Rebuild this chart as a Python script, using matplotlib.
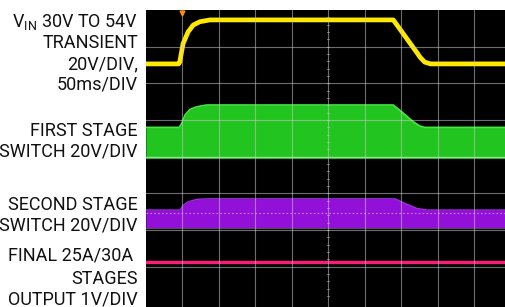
import matplotlib
matplotlib.use("Agg")
import matplotlib.pyplot as plt

plt.rcParams["font.family"] = ["Roboto", "DejaVu Sans"]
plt.rcParams["mathtext.fontset"] = "custom"
plt.rcParams["mathtext.rm"] = "Roboto"

# scope traces, time in ms (50ms/DIV), levels in volts
vin_t = [0, 45, 46.5, 51, 58, 65, 74, 88, 102, 339, 372, 376, 382, 390, 500]
vin_v = [30, 30, 31, 41, 47.5, 51.2, 53, 54, 54, 54, 35.8, 33.5, 31, 30, 30]

sw1_t = [0, 45.9, 49.2, 53.7, 60.5, 69.7, 83.4, 339, 350.5, 366.3, 375.5, 382.3, 500]
sw1_v = [16.9, 16.9, 19.1, 23.6, 26.7, 28.1, 29.1, 29.1, 25.4, 20, 17.6, 16.9, 16.9]

sw2_t = [0, 47, 51.6, 58.2, 69.7, 83.4, 341.4, 352.7, 371.1, 384.8, 500]
sw2_v = [10, 10, 12.7, 14.5, 15.8, 16.1, 16.1, 14, 10.9, 10, 10]

out_t = [0, 500]
out_v = [1.0, 1.0]

labels = [
    ["V$_{\\mathrm{IN}}$ 30V TO 54V", "TRANSIENT", "20V/DIV,", "50ms/DIV"],
    ["FIRST STAGE", "SWITCH 20V/DIV"],
    ["SECOND STAGE", "SWITCH 20V/DIV"],
    ["FINAL 25A/30A ", "STAGES", "OUTPUT 1V/DIV"],
]
# baselines in pixels from the top of the picture
label_y = [[26.7, 48.3, 69, 89.5], [136, 156.7], [210, 230.7], [261, 283.7, 304.3]]

# channel zero levels (divisions from screen bottom) and volts per division
off_vin, off_sw1, off_sw2, off_out = 5.03, 3.954, 2.045, 0.134


def pos(v, off, vdiv):
    return [off + x / vdiv for x in v]


W, H = 506, 307
fig = plt.figure(figsize=(W / 100, H / 100), dpi=100, facecolor="white")
left = 145.8 / W
ax = fig.add_axes([left, 0, 1 - left, 1 - 10 / H])
ax.set_facecolor("black")
ax.set_xlim(0, (W - 145.8) / 36.5 * 50)
ax.set_ylim(-0.1, 8.0)
ax.axis("off")
ax.add_patch(plt.Rectangle((0, 0), 1, 1, transform=ax.transAxes,
                           color="black", zorder=0))

# first stage switch (green band)
ax.fill_between(sw1_t, off_sw1, pos(sw1_v, off_sw1, 20), color="#22c41f",
                lw=0, zorder=2)
ax.plot(sw1_t, pos(sw1_v, off_sw1, 20), color="#46e840", lw=1.2, zorder=3)
ax.plot([0, 500], [off_sw1 + 0.04] * 2, color="#5cff5a", lw=1.0, zorder=3)

# second stage switch (purple band)
ax.fill_between(sw2_t, off_sw2, pos(sw2_v, off_sw2, 20), color="#9310d8",
                lw=0, zorder=2)
ax.plot(sw2_t, pos(sw2_v, off_sw2, 20), color="#a52ae6", lw=1.0, zorder=3)
ax.plot([0, 500], [off_sw2 + 0.43] * 2, color="#d27cff", lw=0.8,
        ls=(0, (1.5, 2)), zorder=3)
ax.plot([0, 500], [off_sw2] * 2, color="#5a4a62", lw=0.8, zorder=3)

# output
ax.plot(out_t, pos(out_v, off_out, 1), color="#ff1a78", lw=2.4, zorder=3)

# input transient (yellow)
ax.plot(vin_t, pos(vin_v, off_vin, 20), color="#ffe900", lw=3.4,
        solid_joinstyle="round", zorder=4)

# graticule
for gx in range(50, 500, 50):
    ax.axvline(gx, color="#c8c8c8", lw=0.8, alpha=0.55, zorder=5)
for gy in range(1, 8):
    ax.axhline(gy, color="#c8c8c8", lw=0.8, alpha=0.55, zorder=5)
for k in range(1, 40):
    ax.plot([250 - 1.5, 250 + 1.5], [k * 0.2] * 2, color="#c8c8c8",
            lw=0.6, alpha=0.6, zorder=5)

# trigger marker
ax.plot(50, 7.93, marker="v", color="#ff8a1c", ms=3.5, zorder=6)

right = 138 / W
for block, ys in zip(labels, label_y):
    for txt, y in zip(block, ys):
        fig.text(right, 1 - y / H, txt, ha="right", va="baseline",
                 fontsize=13, color="#111111")

fig.savefig("out.png", dpi=100, facecolor="white")
